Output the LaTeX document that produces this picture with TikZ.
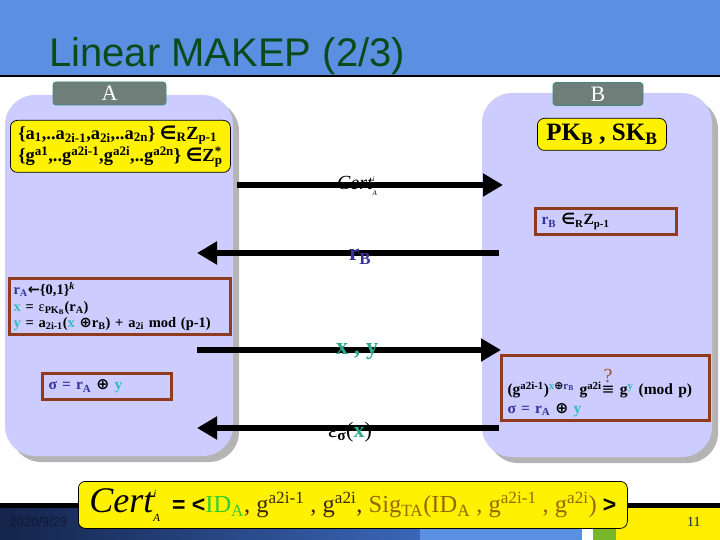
\documentclass[tikz,border=0pt]{standalone}
\usepackage{fontspec}
\setmainfont{Liberation Serif}
\setsansfont{Liberation Sans}
\newfontfamily\symfont{DejaVu Sans}
\usepackage{xcolor}
\usetikzlibrary{arrows.meta,positioning}
\tikzset{every picture/.style={line width=0.75pt}}

\definecolor{titleblue}{HTML}{5B8FE2}
\definecolor{titlegreen}{HTML}{0B4A1B}
\definecolor{lav}{HTML}{CCCCFF}
\definecolor{shadowgray}{HTML}{B4B4B4}
\definecolor{tagfill}{HTML}{707E7A}
\definecolor{tagedge}{HTML}{3E8A82}
\definecolor{boxbrown}{HTML}{8E3B1F}
\definecolor{dblue}{HTML}{333399}
\definecolor{vteal}{HTML}{2EA88C}
\definecolor{vcyan}{HTML}{33BBBB}
\definecolor{idgreen}{HTML}{33CC33}
\definecolor{sigbrown}{HTML}{996600}
\definecolor{gdark}{HTML}{3C2A0A}
\definecolor{qbrown}{HTML}{A0522D}
\definecolor{footdark}{HTML}{14244A}
\definecolor{footmid}{HTML}{3A66B8}
\definecolor{footgreen}{HTML}{77B52A}
\definecolor{footyellow}{HTML}{FFEE00}

\newcommand\fsz[2]{\fontsize{#1}{#2}\selectfont}
\newcommand\opl{{\symfont\bfseries ⊕}}
\newcommand\elt{{\symfont\bfseries ∈}}

\tikzset{
  tagbox/.style={draw=tagedge, fill=tagfill, rounded corners=3pt, text=white,
    font=\fsz{22}{24}, minimum height=23pt, inner sep=0pt},
  keybox/.style={draw=black, fill=yellow, rounded corners=7pt, anchor=north west,
    align=left, font=\bfseries, inner xsep=4pt, inner ysep=2pt},
  stepbox/.style={draw=boxbrown, line width=3pt, anchor=north west, align=left,
    font=\bfseries\fsz{15.5}{16.5}, inner xsep=6pt, inner ysep=3pt},
  msg/.style={line width=6pt, -{Triangle[length=20pt,width=22pt]}},
}

\begin{document}
\begin{tikzpicture}[x=1pt,y=1pt,yscale=-1]
\useasboundingbox (0,0) rectangle (720,540);
% title band
\fill[titleblue] (0,0) rectangle (720,75);
\fill[black] (0,75) rectangle (720,77.5);
\node[anchor=base west, inner sep=0pt, text=titlegreen, font=\sffamily\fsz{40}{40}] (title) at (49,67) {Linear MAKEP (2/3)};

% the two parties
\fill[shadowgray, rounded corners=30pt] (11,101) rectangle (239,462);
\fill[lav, rounded corners=30pt] (5,95) rectangle (233,456);
\fill[shadowgray, rounded corners=30pt] (488,99) rectangle (718,463);
\fill[lav, rounded corners=30pt] (482,93) rectangle (712,457);
\node[tagbox, minimum width=113pt] (tagA) at (109.5,93.5) {A};
\node[tagbox, minimum width=90pt] (tagB) at (598,94) {B};

% keys
\node[keybox, minimum width=220pt, minimum height=52pt, font=\bfseries\fsz{18.5}{22.5}] (keysA) at (10,120)
  {\{a\textsubscript{1},..a\textsubscript{2i-1},a\textsubscript{2i},..a\textsubscript{2n}\} \elt\textsubscript{R}Z\textsubscript{p-1}\\
   \{g\textsuperscript{a1},..g\textsuperscript{a2i-1},g\textsuperscript{a2i},..g\textsuperscript{a2n}\} \elt Z\rlap{\textsuperscript{*}}\textsubscript{p}};
\node[keybox, minimum width=129pt, minimum height=32pt, align=center, font=\bfseries\fsz{25}{26}] (keysB) at (537,118)
  {PK\textsubscript{B} , SK\textsubscript{B}};

% computations
\node[stepbox, text width=129pt, minimum height=26pt] (rB) at (534,207)
  {{\color{dblue}r\textsubscript{B}} \elt\textsubscript{R}Z\textsubscript{p-1}};
\node[stepbox, text width=213pt, minimum height=56pt, inner xsep=4pt, font=\bfseries\fsz{14.5}{16.5}] (calcA) at (8,277)
  {{\color{dblue}r\textsubscript{A}}{\symfont\bfseries ←}\{0,1\}\textsuperscript{\textit{k}}\\
   {\color{vcyan}x} = {\mdseries ε}\textsubscript{PK\textsubscript{B}}(r\textsubscript{A})\\
   {\color{vcyan}y} = a\textsubscript{2i-1}({\color{vcyan}x} \opl r\textsubscript{B}) + a\textsubscript{2i} mod (p-1)};
\node[stepbox, text width=117pt, minimum height=26pt] (sigA) at (41,372)
  {{\color{dblue}σ = r\textsubscript{A}} \opl\ {\color{vcyan}y}};
\node[stepbox, text width=196pt, minimum height=65pt, font=\bfseries\fsz{15.5}{19}] (checkB) at (500,354)
  {\rule{0pt}{35pt}(g\textsuperscript{a2i-1})\textsuperscript{{\color{vcyan}x}\opl{\color{dblue}r\textsubscript{B}}} g\textsuperscript{a2i}\rlap{\raisebox{12pt}{\hspace{2pt}\color{qbrown}\mdseries\fsz{20}{20}?}}{\symfont\mdseries ≡} g\textsuperscript{\color{vcyan}y} (mod p)\\
   {\color{dblue}σ = r\textsubscript{A}} \opl\ {\color{vcyan}y}};

% messages
\coordinate (m1a) at (237,185);
\coordinate (m1b) at (503,185);
\coordinate (m2b) at (499,253);
\coordinate (m2a) at (197,253);
\coordinate (m3a) at (197,350);
\coordinate (m3b) at (501,350);
\coordinate (m4b) at (499,428);
\coordinate (m4a) at (197,428);
\draw[msg] (m1a) -- (m1b);
\draw[msg] (m2b) -- (m2a);
\draw[msg] (m3a) -- (m3b);
\draw[msg] (m4b) -- (m4a);
\node[inner sep=0pt, font=\fsz{20}{20}\itshape] (lab1) at (357,186)
  {Cert\rlap{\raisebox{8pt}{\fsz{7}{7}i}}\raisebox{-6pt}{\fsz{7}{7}A}};
\node[inner sep=0pt, text=dblue, font=\bfseries\fsz{24}{24}] (lab2) at (360,257) {r\textsubscript{B}};
\node[inner sep=0pt, text=vteal, font=\bfseries\fsz{24}{24}] (lab3) at (357,352) {x , y};
\node[inner sep=0pt, font=\fsz{22}{22}] (lab4) at (350,432)
  {ε\textsubscript{\bfseries σ}({\bfseries\color{vteal}x})};

% footer
\fill[black] (0,503) rectangle (720,508);
\shade[left color=footdark, right color=footmid] (0,508) rectangle (420,540);
\fill[titleblue] (420,508) rectangle (582,540);
\fill[footyellow] (560,508) rectangle (720,525);
\fill[white] (582,525) rectangle (593,540);
\fill[footgreen] (593,525) rectangle (616,540);
\fill[footyellow] (616,525) rectangle (720,540);
\node[anchor=base west, inner sep=0pt, text=footdark!70!black, font=\sffamily\fsz{13}{13}] (date) at (9,526) {2020/9/29};
\node[anchor=base east, inner sep=0pt, text=footdark, font=\fsz{14}{14}] (page) at (701,526) {11};

% certificate
\node[keybox, font=\fsz{24.5}{25}, minimum width=549pt, minimum height=47pt, inner xsep=9pt] (cert) at (78,481)
  {{\fsz{36}{36}\itshape Cert}\rlap{\raisebox{15pt}{\fsz{11}{11}\itshape i}}\raisebox{-9pt}{\fsz{11}{11}\itshape A}%
   \hspace{12pt}{\sffamily\bfseries\fsz{23}{23}= <}{\color{idgreen}ID\textsubscript{A}}{\color{gdark} , g\textsuperscript{a2i-1} , g\textsuperscript{a2i}, }%
   {\color{sigbrown}Sig\textsubscript{TA}(ID\textsubscript{A} , g\textsuperscript{a2i-1} , g\textsuperscript{a2i})} {\sffamily\bfseries\fsz{23}{23}>}};
\end{tikzpicture}
\end{document}
